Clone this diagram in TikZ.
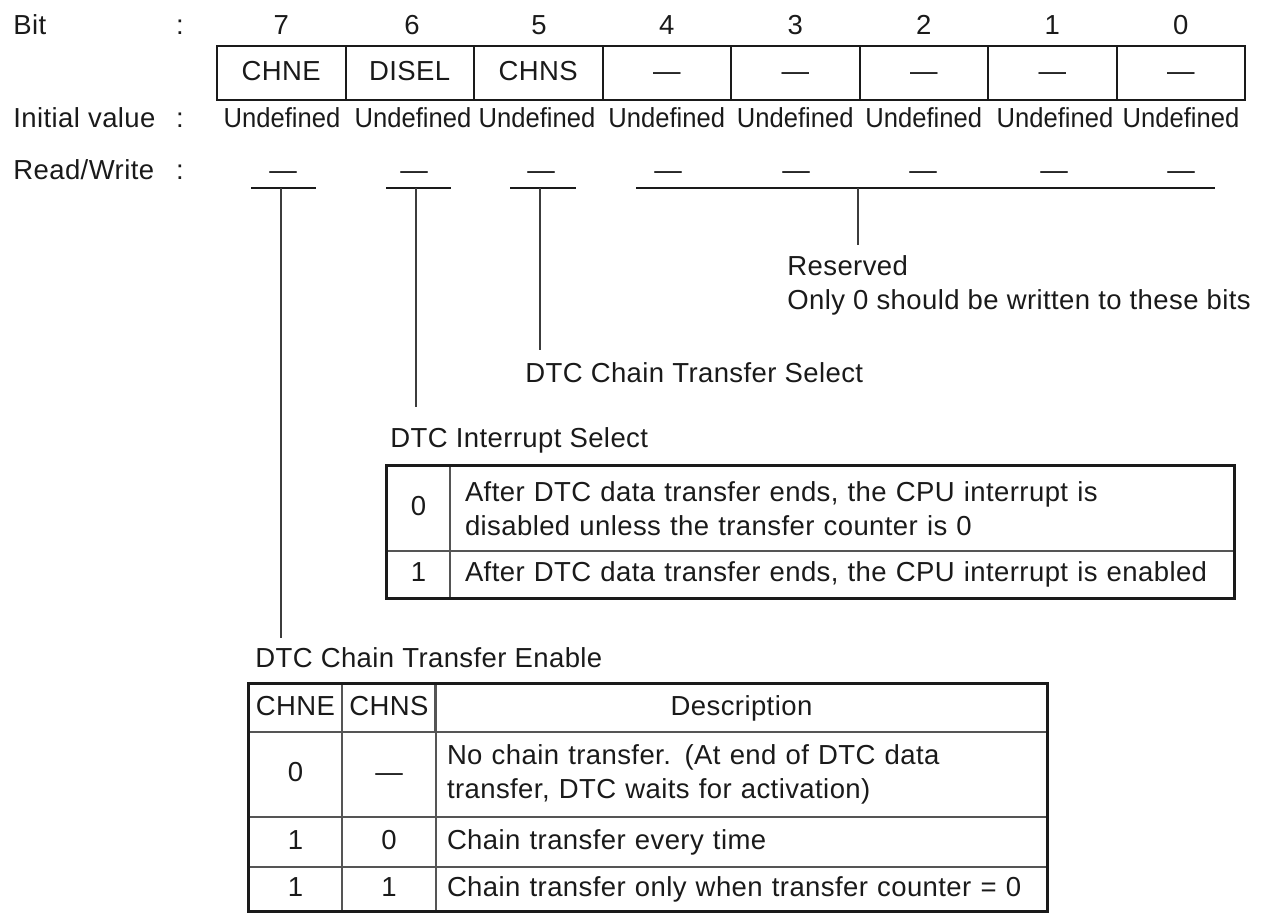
\documentclass[tikz,border=0pt]{standalone}
\usepackage{fontspec}
\setmainfont{Liberation Sans}[LetterSpace=1.5]
\newfontfamily\narrowfont{Liberation Sans}[FakeStretch=0.93]
\usepackage{tikz}
\usetikzlibrary{positioning,calc}
\definecolor{ink}{HTML}{1A1A1A}
\definecolor{leader}{HTML}{3C3C3C}
\definecolor{rule}{HTML}{555555}
\tikzset{
  every node/.style={font=\fontsize{13.75}{17}\selectfont,text=ink,inner sep=0pt},
  oneline/.style={text height=0.716em,text depth=0pt},
  rowlabel/.style={oneline,anchor=west},
  colon/.style={oneline,anchor=center},
  bitnum/.style={oneline,anchor=center},
  initval/.style={oneline,font=\fontsize{13.75}{17}\narrowfont},
  regcell/.style={oneline,draw=ink,line width=1pt,minimum width=64.25pt,minimum height=27pt},
  tcell/.style={oneline,draw=rule,line width=0.55pt,align=center},
  tdesc/.style={draw=rule,line width=0.55pt,align=left,inner xsep=7.5pt},
  tabframe/.style={draw=ink,line width=1.1pt},
  underline/.style={draw=ink,line width=0.75pt},
  leaderline/.style={draw=leader,line width=0.6pt},
  fieldlabel/.style={anchor=west,align=left}
}

\begin{document}
\begin{tikzpicture}[x={(0.5pt,0)},y={(0,-0.5pt)}]
  \useasboundingbox (0,0) rectangle (1263,912);

  % row headings
  \node[rowlabel] (hbit) at (13,27.5) {Bit};
  \node[colon] (cbit) at (180,27.5) {:};
  \node[rowlabel] (hinit) at (13,120) {Initial value};
  \node[colon] (cinit) at (180,120) {:};
  \node[rowlabel] (hrw) at (13,172) {Read/Write};
  \node[colon] (crw) at (180,172) {:};

  % bit numbers
  \node[bitnum] (n7) at (281.25,27.5) {7};
  \node[bitnum] (n6) at (412,27.5) {6};
  \node[bitnum] (n5) at (539,27.5) {5};
  \node[bitnum] (n4) at (666.75,27.5) {4};
  \node[bitnum] (n3) at (795.25,27.5) {3};
  \node[bitnum] (n2) at (923.75,27.5) {2};
  \node[bitnum] (n1) at (1052.25,27.5) {1};
  \node[bitnum] (n0) at (1180.75,27.5) {0};

  % register cells
  \node[regcell] (b7) at (281.25,73) {CHNE};
  \node[regcell] (b6) at (409.75,73) {DISEL};
  \node[regcell] (b5) at (538.25,73) {CHNS};
  \node[regcell] (b4) at (666.75,73) {—};
  \node[regcell] (b3) at (795.25,73) {—};
  \node[regcell] (b2) at (923.75,73) {—};
  \node[regcell] (b1) at (1052.25,73) {—};
  \node[regcell] (b0) at (1180.75,73) {—};

  % initial values
  \node[initval] (i7) at (282,120) {Undefined};
  \node[initval] (i6) at (413,120) {Undefined};
  \node[initval] (i5) at (537,120) {Undefined};
  \node[initval] (i4) at (666.75,120) {Undefined};
  \node[initval] (i3) at (795.25,120) {Undefined};
  \node[initval] (i2) at (923.75,120) {Undefined};
  \node[initval] (i1) at (1055,120) {Undefined};
  \node[initval] (i0) at (1181,120) {Undefined};

  % read/write
  \node[oneline] (w7) at (283,172) {—};
  \node[oneline] (w6) at (414,172) {—};
  \node[oneline] (w5) at (541,172) {—};
  \node[oneline] (w4) at (668,172) {—};
  \node[oneline] (w3) at (796,172) {—};
  \node[oneline] (w2) at (923,172) {—};
  \node[oneline] (w1) at (1054,172) {—};
  \node[oneline] (w0) at (1181,172) {—};

  \draw[underline] (251,188) -- (316,188);
  \draw[underline] (386,188) -- (451,188);
  \draw[underline] (510,188) -- (576,188);
  \draw[underline] (636,188) -- (1215,188);

  % field labels
  \node[fieldlabel] (reserved) at (787,285) {Reserved\\Only 0 should be written to these bits};
  \node[fieldlabel,oneline] (chnslbl) at (525,375) {DTC Chain Transfer Select};
  \node[fieldlabel,oneline] (disellbl) at (390,440) {DTC Interrupt Select};
  \node[fieldlabel,oneline] (chnelbl) at (255,660) {DTC Chain Transfer Enable};

  \coordinate (u7) at (281,188);
  \coordinate (u6) at (416,188);
  \coordinate (u5) at (540,188);
  \coordinate (ur) at (858,188);
  \coordinate (e7) at (281,638);
  \coordinate (e6) at (416,407);
  \coordinate (e5) at (540,350);
  \coordinate (er) at (858,245);
  \draw[leaderline] (u7) -- (e7);
  \draw[leaderline] (u6) -- (e6);
  \draw[leaderline] (u5) -- (e5);
  \draw[leaderline] (ur) -- (er);

  % DISEL table
  \node[tcell,minimum width=31.5pt,minimum height=42.5pt] (s0) at (418.5,508.5) {0};
  \node[tdesc,text width=377pt,minimum height=42.5pt] (s0d) at (842,508.5) {After DTC data transfer ends, the CPU interrupt is\\disabled unless the transfer counter is 0};
  \node[tcell,minimum width=31.5pt,minimum height=23.5pt] (s1) at (418.5,574.5) {1};
  \node[tdesc,oneline,text width=377pt,minimum height=23.5pt] (s1d) at (842,574.5) {After DTC data transfer ends, the CPU interrupt is enabled};
  \draw[tabframe] (s0.north west) rectangle (s1d.south east);

  % CHNE/CHNS table
  \node[tcell,minimum width=46.5pt,minimum height=24pt] (hchne) at (295.5,708) {CHNE};
  \node[tcell,minimum width=47pt,minimum height=24pt] (hchns) at (389,708) {CHNS};
  \node[tcell,text width=295.5pt,inner xsep=5.5pt,minimum height=24pt] (hdesc) at (741.5,708) {Description};
  \node[tcell,minimum width=46.5pt,minimum height=42.5pt] (r0a) at (295.5,774.5) {0};
  \node[tcell,minimum width=47pt,minimum height=42.5pt] (r0b) at (389,774.5) {—};
  \node[tdesc,text width=294.5pt,inner xsep=5.5pt,minimum height=42.5pt] (r0d) at (741.5,774.5) {No chain transfer. (At end of DTC data\\transfer, DTC waits for activation)};
  \node[tcell,minimum width=46.5pt,minimum height=25pt] (r1a) at (295.5,842) {1};
  \node[tcell,minimum width=47pt,minimum height=25pt] (r1b) at (389,842) {0};
  \node[tdesc,oneline,text width=294.5pt,inner xsep=5.5pt,minimum height=25pt] (r1d) at (741.5,842) {Chain transfer every time};
  \node[tcell,minimum width=46.5pt,minimum height=22pt] (r2a) at (295.5,889) {1};
  \node[tcell,minimum width=47pt,minimum height=22pt] (r2b) at (389,889) {1};
  \node[tdesc,oneline,text width=294.5pt,inner xsep=5.5pt,minimum height=22pt] (r2d) at (741.5,889) {Chain transfer only when transfer counter = 0};
  \draw[tabframe] (hchne.north west) rectangle (r2d.south east);
\end{tikzpicture}
\end{document}
